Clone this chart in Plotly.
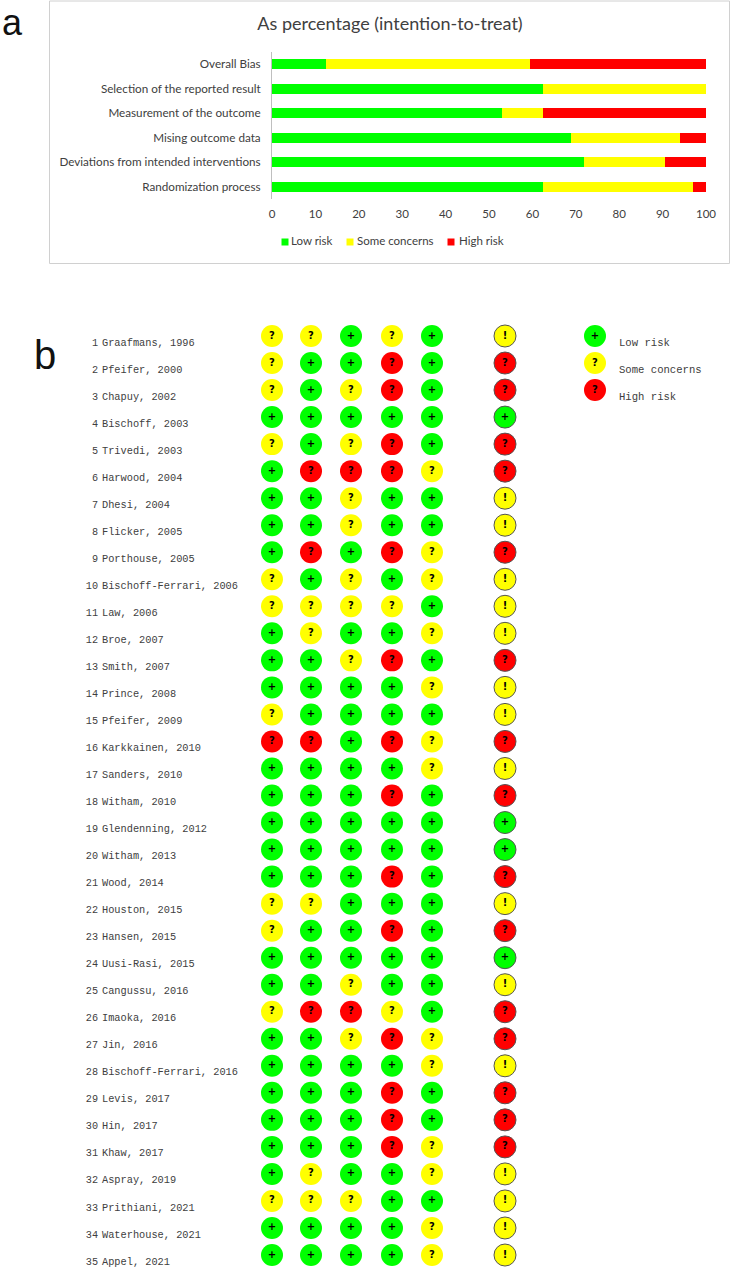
import plotly.graph_objects as go

W, H = 731, 1269

# ---------- Panel a data ----------
domains = ["Randomization process", "Deviations from intended interventions",
           "Mising outcome data", "Measurement of the outcome",
           "Selection of the reported result", "Overall Bias"]
low_risk = [62.5, 71.9, 68.9, 53.1, 62.5, 12.5]
some_concerns = [34.4, 18.7, 25.0, 9.4, 37.5, 46.9]
high_risk = [3.1, 9.4, 6.1, 37.5, 0.0, 40.6]
xticks = [0, 10, 20, 30, 40, 50, 60, 70, 80, 90, 100]

# ---------- Panel b data ----------
studies = ["Graafmans, 1996", "Pfeifer, 2000", "Chapuy, 2002", "Bischoff, 2003", "Trivedi, 2003",
           "Harwood, 2004", "Dhesi, 2004", "Flicker, 2005", "Porthouse, 2005", "Bischoff-Ferrari, 2006",
           "Law, 2006", "Broe, 2007", "Smith, 2007", "Prince, 2008", "Pfeifer, 2009",
           "Karkkainen, 2010", "Sanders, 2010", "Witham, 2010", "Glendenning, 2012", "Witham, 2013",
           "Wood, 2014", "Houston, 2015", "Hansen, 2015", "Uusi-Rasi, 2015", "Cangussu, 2016",
           "Imaoka, 2016", "Jin, 2016", "Bischoff-Ferrari, 2016", "Levis, 2017", "Hin, 2017",
           "Khaw, 2017", "Aspray, 2019", "Prithiani, 2021", "Waterhouse, 2021", "Appel, 2021"]
# L low, S some concerns, H high, per study: five domains + overall
judgements = ["SSLSLS", "SLLHLH", "SLSHLH", "LLLLLL", "SLSHLH",
              "LHHHSH", "LLSLLS", "LLSLLS", "LHLHSH", "SLSLSS",
              "SSSSLS", "LSLLSS", "LLSHLH", "LLLLSS", "SLLLLS",
              "HHLHSH", "LLLLSS", "LLLHLH", "LLLLLL", "LLLLLL",
              "LLLHLH", "SSLLLS", "SLLHLH", "LLLLLL", "LLSLLS",
              "SHHSLH", "LLSHSH", "LLLLSS", "LLLHLH", "LLLHLH",
              "LLLHSH", "LSLLSS", "SSSLLS", "LLLLSS", "LLLLSS"]
legend_levels = ["Low risk", "Some concerns", "High risk"]

# ---------- Styles / layout constants ----------
COL = {"L": "#00FF00", "S": "#FFFF00", "H": "#FF0000"}
GLYPH = {"L": "+", "S": "?", "H": "?"}
TEXT_GREY = "#404040"
SANS = "Lato, Open Sans, sans-serif"
MONO = "Liberation Mono, monospace"
col_px = [272, 311, 351, 392, 432, 505]
LEG_X, LEG_TXT_X = 595, 619
ROW0, ROW_STEP = 336.0, 27.03
BAR_LEG_Y = 242
BAR_LEG_SWATCH = [285, 350, 451]
BAR_LEG_TEXT = [291, 357, 459]

fig = go.Figure()

# Panel a: stacked bars
for name, vals, c in [("Low risk", low_risk, COL["L"]),
                      ("Some concerns", some_concerns, COL["S"]),
                      ("High risk", high_risk, COL["H"])]:
    fig.add_trace(go.Bar(y=domains, x=vals, name=name, orientation="h", showlegend=False,
                         marker=dict(color=c, line=dict(width=0)), xaxis="x", yaxis="y"))

rows = list(range(1, len(studies) + 1))
row_y = [ROW0 + ROW_STEP * (r - 1) for r in rows]
GF = dict(family="DejaVu Sans", size=10, color="#000000", weight="bold")

for level in "LSH":
    xs, ys, txt = [], [], []
    for j, y in zip(judgements, row_y):
        for k, ch in enumerate(j[:5]):
            if ch == level:
                xs.append(col_px[k]); ys.append(y); txt.append(GLYPH[ch])
    fig.add_trace(go.Scatter(x=xs, y=ys, mode="markers+text", text=txt, textposition="middle center",
                             textfont=GF,
                             marker=dict(symbol="circle", size=22, color=COL[level], line=dict(width=0)),
                             xaxis="x2", yaxis="y2", showlegend=False, hoverinfo="skip"))

for level in "LSH":
    ys = [y for j, y in zip(judgements, row_y) if j[5] == level]
    glyph = {"L": "+", "S": "!", "H": "?"}[level]
    fig.add_trace(go.Scatter(x=[col_px[5]] * len(ys), y=ys, mode="markers+text", text=[glyph] * len(ys),
                             textposition="middle center", textfont=GF,
                             marker=dict(symbol="circle", size=22, color=COL[level],
                                         line=dict(width=1, color="#555555")),
                             xaxis="x2", yaxis="y2", showlegend=False, hoverinfo="skip"))

for i, (lab, lev) in enumerate(zip(legend_levels, "LSH")):
    y = row_y[i]
    fig.add_trace(go.Scatter(x=[LEG_X], y=[y], mode="markers+text", text=[GLYPH[lev]],
                             textposition="middle center", textfont=GF,
                             marker=dict(symbol="circle", size=22, color=COL[lev], line=dict(width=0)),
                             xaxis="x2", yaxis="y2", showlegend=False, hoverinfo="skip"))
    fig.add_trace(go.Scatter(x=[LEG_TXT_X], y=[y + 7], mode="text", text=[lab], textposition="middle right",
                             textfont=dict(family=MONO, size=10.6, color=TEXT_GREY),
                             xaxis="x2", yaxis="y2", showlegend=False, hoverinfo="skip"))
    # legend of the bar panel
    fig.add_trace(go.Scatter(x=[BAR_LEG_SWATCH[i]], y=[BAR_LEG_Y], mode="markers",
                             marker=dict(symbol="square", size=7, color=COL[lev], line=dict(width=0)),
                             xaxis="x2", yaxis="y2", showlegend=False, hoverinfo="skip"))
    fig.add_trace(go.Scatter(x=[BAR_LEG_TEXT[i]], y=[BAR_LEG_Y], mode="text", text=[lab],
                             textposition="middle right",
                             textfont=dict(family=SANS, size=11.5, color=TEXT_GREY),
                             xaxis="x2", yaxis="y2", showlegend=False, hoverinfo="skip"))

fig.add_trace(go.Scatter(x=[98] * len(rows), y=[y + 7 for y in row_y], mode="text", text=[str(r) for r in rows],
                         textposition="middle left", textfont=dict(family=MONO, size=10.2, color=TEXT_GREY),
                         xaxis="x2", yaxis="y2", showlegend=False, hoverinfo="skip"))
fig.add_trace(go.Scatter(x=[102] * len(rows), y=[y + 7 for y in row_y], mode="text", text=studies,
                         textposition="middle right", textfont=dict(family=MONO, size=10.3, color=TEXT_GREY),
                         xaxis="x2", yaxis="y2", showlegend=False, hoverinfo="skip"))

fig.update_layout(
    width=W, height=H, autosize=False,
    margin=dict(l=0, r=0, t=0, b=0),
    paper_bgcolor="white", plot_bgcolor="rgba(0,0,0,0)",
    barmode="stack", bargap=0.58, showlegend=False,
    font=dict(family=SANS, color=TEXT_GREY, size=12),
    title=dict(text="As percentage (intention-to-treat)", x=390 / W, xanchor="center", automargin=False,
               y=1 - 24 / H, yanchor="middle", font=dict(family=SANS, size=18, color="#404040")),
    xaxis=dict(domain=[272 / W, 706 / W], range=[0, 100], tickvals=xticks, showgrid=False, zeroline=False,
               showline=False, ticks="", anchor="free", position=1 - 199 / H, ticklabelstandoff=6,
               automargin=False, tickfont=dict(family=SANS, size=11.5, color=TEXT_GREY)),
    yaxis=dict(domain=[1 - 199 / H, 1 - 52 / H], type="category", categoryorder="array", categoryarray=domains,
               showline=True, linecolor="#BFBFBF", linewidth=1, ticks="", showgrid=False, anchor="x",
               automargin=False, ticklabelstandoff=8, tickfont=dict(family=SANS, size=11.7, color=TEXT_GREY)),
    xaxis2=dict(domain=[0, 1], range=[0, W], visible=False, anchor="y2", automargin=False),
    yaxis2=dict(domain=[0, 1], range=[H, 0], visible=False, anchor="x2", automargin=False),
    shapes=[dict(type="rect", xref="paper", yref="paper", x0=49.5 / W, x1=729.5 / W, y0=1 - 263.5 / H, y1=1 - 1 / H,
                 line=dict(color="#D0D0D0", width=1), fillcolor="rgba(0,0,0,0)", layer="below")],
    annotations=[
        dict(text="a", x=12 / W, y=1 - 22 / H, xref="paper", yref="paper", showarrow=False,
             xanchor="center", yanchor="middle",
             font=dict(family="Liberation Sans", size=36, color="#111111")),
        dict(text="b", x=45 / W, y=1 - 355 / H, xref="paper", yref="paper", showarrow=False,
             xanchor="center", yanchor="middle",
             font=dict(family="Liberation Sans", size=40, color="#111111")),
    ],
)

fig.write_html("out.html", config=dict(displayModeBar=False), post_script="document.body.style.margin='0';")
